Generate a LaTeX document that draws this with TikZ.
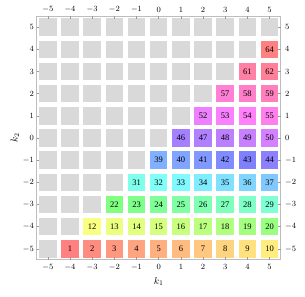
\documentclass[tikz,border=0pt]{standalone}
\usepackage{fontspec}
\setmainfont{Liberation Serif}
\usetikzlibrary{positioning}
\definecolor{offc}{HTML}{D9D9D9}
\definecolor{framec}{HTML}{BDBDBD}
\definecolor{tickc}{HTML}{999999}

\begin{document}
\begin{tikzpicture}[x=22.15pt, y=22.15pt, line width=0.9pt,
    sqbox/.style={minimum size=17.5pt, inner sep=0pt,
      font=\fontsize{8.5}{10}\selectfont},
    ticklab/.style={inner sep=1pt, font=\fontsize{8.5}{10}\selectfont}]
    \useasboundingbox (-7.157,-7.157) rectangle (6.597,6.222);
    % squares
    \foreach \x in {-5,...,5}{
      \foreach \y in {-5,...,5}{
        \ifnum\x>\y
          \pgfmathtruncatemacro\rr{\y+5}
          \pgfmathtruncatemacro\n{\x+5+10*\rr-\rr*(\rr-1)/2}
          \pgfmathsetmacro\hh{(\n-1)/63}
          \definecolor{hsbc}{hsb}{\hh,0.5,1}
          \colorlet{cellc}[rgb]{hsbc}
          \node[sqbox, fill=cellc] (sq\x x\y) at (\x,\y) {\n};
        \else
          \node[sqbox, fill=offc] (sq\x x\y) at (\x,\y) {};
        \fi
      }
    }
    % frame
    \draw[framec, line width=1pt] (-5.5,-5.5) rectangle (5.5,5.5);
    % ticks
    \foreach \i in {-5,...,5}{
      \draw[tickc, line width=0.6pt] (\i,5.5) -- ++(0,-0.12);
      \draw[tickc, line width=0.6pt] (\i,-5.5) -- ++(0,0.12);
      \draw[tickc, line width=0.6pt] (-5.5,\i) -- ++(0.12,0);
      \draw[tickc, line width=0.6pt] (5.5,\i) -- ++(-0.12,0);
      \node[ticklab, above=2pt] (tt\i) at (\i,5.5) {$\i$};
      \node[ticklab, below=3pt] (tb\i) at (\i,-5.5) {$\i$};
      \node[ticklab, left=1.5pt] (tl\i) at (-5.5,\i) {$\i$};
      \node[ticklab, right=3pt] (tr\i) at (5.5,\i) {$\i$};
    }
    % axis labels
    \node[font=\fontsize{10}{12}\selectfont] (kone) at (0,-6.48) {$k_1$};
    \node[rotate=90, font=\fontsize{10}{12}\selectfont]
      (ktwo) at (-6.48,0) {$k_2$};
  \end{tikzpicture}
\end{document}
